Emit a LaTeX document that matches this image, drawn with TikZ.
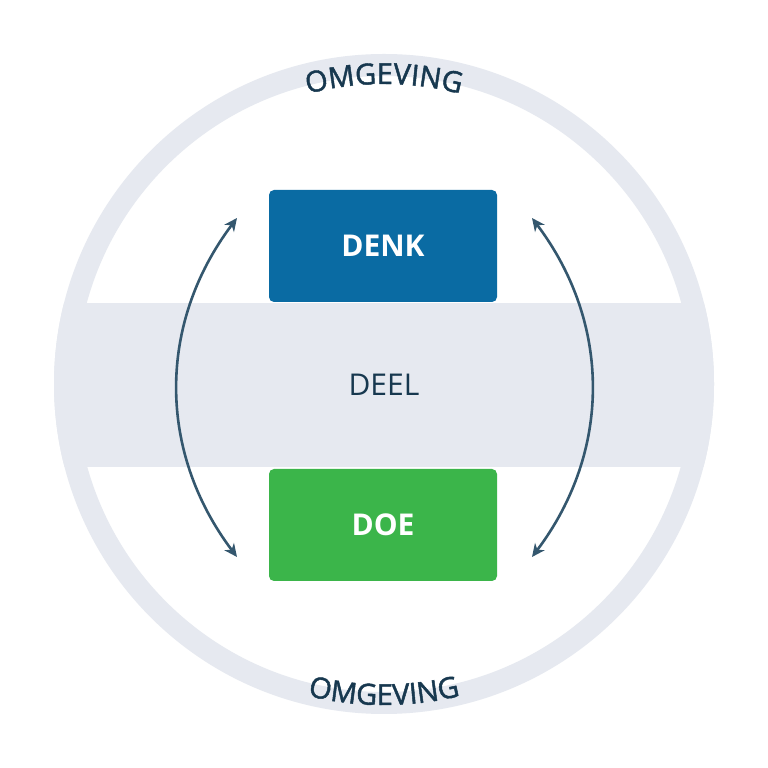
\documentclass[tikz,border=0pt]{standalone}
\usepackage{fontspec}
\setmainfont{Open Sans}
\newfontfamily\omfont{Open Sans}[FakeBold=1.6]
\usetikzlibrary{arrows.meta,decorations.text,calc}
\definecolor{ringc}{HTML}{E6E9F0}
\definecolor{denkc}{HTML}{0A6BA3}
\definecolor{doec}{HTML}{3BB54A}
\definecolor{txtc}{HTML}{17384F}
\definecolor{arrc}{HTML}{34576E}
\begin{document}
\begin{tikzpicture}[x=1pt,y=1pt,
  box/.style={minimum width=228pt, minimum height=112pt, rounded corners=5pt, inner sep=0pt,
    text=white, font=\fontsize{30}{36}\selectfont\bfseries},
  deel/.style={text=txtc, font=\fontsize{30}{36}\selectfont},
  cyc/.style={draw=arrc, line width=2.6pt, {Stealth[length=13pt,width=12pt,inset=4pt]}-{Stealth[length=13pt,width=12pt,inset=4pt]}}]
\useasboundingbox (0,0) rectangle (768,768);
\fill[white] (0,0) rectangle (768,768);
\coordinate (C) at (384,384);
\begin{scope}
  \clip (C) circle (330);
  \fill[ringc] (0,301) rectangle (768,465);
\end{scope}
\draw[ringc, line width=22pt] (C) circle (319);
\node[box, fill=denkc] (denk) at (383,522) {DENK};
\node[box, fill=doec] (doe) at (383,243) {DOE};
\node[deel] (deel) at (384,383) {DEEL};
\coordinate (lt) at (237,550);
\coordinate (lb) at (237,211);
\coordinate (rt) at (532,550);
\coordinate (rb) at (532,211);
\draw[cyc] (lb) to[bend left=37] (lt);
\draw[cyc] (rb) to[bend right=37] (rt);
\path[decorate, decoration={text along path, text align=center, text color=txtc,
  text={|\omfont\fontsize{29}{34}\selectfont|OMGEVING}}]
  ($(C)+(120:300)$) arc[start angle=120, end angle=60, radius=300];
\path[decorate, decoration={text along path, text align=center, text color=txtc,
  text={|\omfont\fontsize{29}{34}\selectfont|OMGEVING}}]
  ($(C)+(240:321)$) arc[start angle=240, end angle=300, radius=321];
\end{tikzpicture}
\end{document}
